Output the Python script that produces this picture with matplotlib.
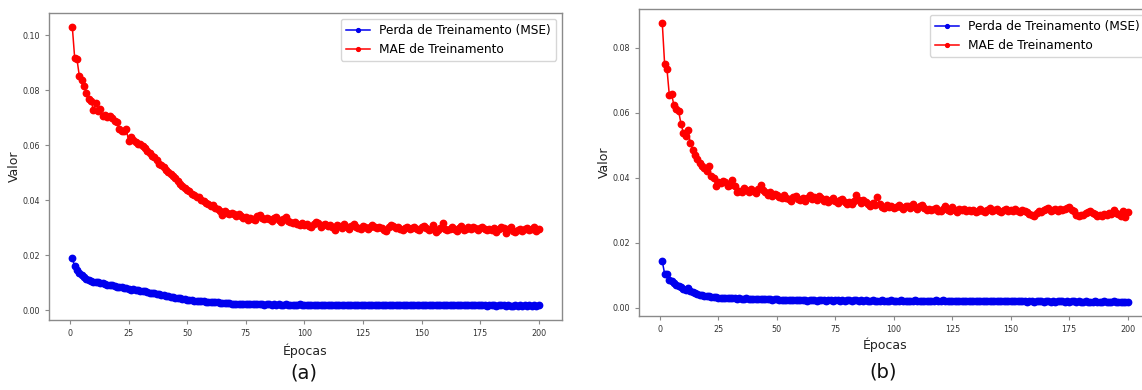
import numpy as np
import matplotlib
matplotlib.use("Agg")
import matplotlib.pyplot as plt

plt.rcParams['font.family'] = ['DejaVu Sans']

epochs = list(range(1, 201))

mae_a = [
    0.1030, 0.0918, 0.0912, 0.0851, 0.0836, 0.0817, 0.0791, 0.0767, 0.0760, 0.0728,
    0.0755, 0.0724, 0.0731, 0.0706, 0.0708, 0.0702, 0.0705, 0.0699, 0.0688, 0.0683,
    0.0659, 0.0652, 0.0650, 0.0660, 0.0616, 0.0628, 0.0620, 0.0612, 0.0606, 0.0603,
    0.0598, 0.0588, 0.0578, 0.0570, 0.0562, 0.0558, 0.0545, 0.0532, 0.0528, 0.0521,
    0.0510, 0.0502, 0.0496, 0.0489, 0.0481, 0.0470, 0.0458, 0.0452, 0.0445, 0.0436,
    0.0432, 0.0424, 0.0419, 0.0410, 0.0412, 0.0402, 0.0396, 0.0391, 0.0386, 0.0379,
    0.0381, 0.0372, 0.0368, 0.0362, 0.0346, 0.0360, 0.0352, 0.0349, 0.0355, 0.0348,
    0.0342, 0.0351, 0.0344, 0.0334, 0.0338, 0.0329, 0.0336, 0.0333, 0.0327, 0.0341,
    0.0346, 0.0335, 0.0330, 0.0337, 0.0331, 0.0325, 0.0334, 0.0340, 0.0328, 0.0322,
    0.0333, 0.0339, 0.0326, 0.0320, 0.0316, 0.0322, 0.0315, 0.0311, 0.0318, 0.0309,
    0.0314, 0.0306, 0.0301, 0.0312, 0.0319, 0.0316, 0.0304, 0.0310, 0.0313, 0.0307,
    0.0309, 0.0302, 0.0293, 0.0311, 0.0305, 0.0298, 0.0312, 0.0304, 0.0296, 0.0307,
    0.0312, 0.0303, 0.0300, 0.0297, 0.0307, 0.0302, 0.0295, 0.0304, 0.0309, 0.0301,
    0.0298, 0.0303, 0.0299, 0.0292, 0.0287, 0.0301, 0.0309, 0.0305, 0.0298, 0.0302,
    0.0295, 0.0291, 0.0299, 0.0304, 0.0296, 0.0300, 0.0303, 0.0297, 0.0293, 0.0301,
    0.0305, 0.0298, 0.0290, 0.0294, 0.0308, 0.0284, 0.0292, 0.0300, 0.0317, 0.0296,
    0.0291, 0.0297, 0.0302, 0.0294, 0.0288, 0.0299, 0.0305, 0.0293, 0.0297, 0.0301,
    0.0296, 0.0303, 0.0299, 0.0291, 0.0298, 0.0302, 0.0295, 0.0290, 0.0297, 0.0293,
    0.0300, 0.0285, 0.0296, 0.0303, 0.0298, 0.0282, 0.0294, 0.0301, 0.0289, 0.0286,
    0.0292, 0.0296, 0.0288, 0.0294, 0.0299, 0.0291, 0.0297, 0.0302, 0.0288, 0.0295,
]

mse_a = [
    0.0188, 0.0160, 0.0146, 0.0136, 0.0127, 0.0120, 0.0114, 0.0110, 0.0107, 0.0104,
    0.0102, 0.0101, 0.0097, 0.0098, 0.0094, 0.0092, 0.0093, 0.0090, 0.0088, 0.0086,
    0.0085, 0.0083, 0.0081, 0.0080, 0.0077, 0.0075, 0.0076, 0.0073, 0.0072, 0.0071,
    0.0069, 0.0068, 0.0066, 0.0064, 0.0063, 0.0061, 0.0059, 0.0057, 0.0056, 0.0054,
    0.0052, 0.0050, 0.0049, 0.0047, 0.0046, 0.0044, 0.0043, 0.0041, 0.0040, 0.0038,
    0.0037, 0.0036, 0.0035, 0.0034, 0.0035, 0.0033, 0.0032, 0.0031, 0.0031, 0.0030,
    0.0029, 0.0028, 0.0028, 0.0027, 0.0026, 0.0026, 0.0025, 0.0025, 0.0024, 0.0024,
    0.0023, 0.0023, 0.0022, 0.0023, 0.0022, 0.0021, 0.0022, 0.0021, 0.0021, 0.0022,
    0.0021, 0.0022, 0.0020, 0.0021, 0.0021, 0.0020, 0.0021, 0.0020, 0.0021, 0.0020,
    0.0020, 0.0021, 0.0019, 0.0020, 0.0020, 0.0019, 0.0020, 0.0021, 0.0019, 0.0020,
    0.0019, 0.0020, 0.0018, 0.0019, 0.0020, 0.0019, 0.0018, 0.0019, 0.0020, 0.0018,
    0.0019, 0.0019, 0.0018, 0.0020, 0.0019, 0.0018, 0.0019, 0.0020, 0.0019, 0.0018,
    0.0019, 0.0018, 0.0019, 0.0019, 0.0018, 0.0020, 0.0018, 0.0019, 0.0018, 0.0019,
    0.0018, 0.0019, 0.0018, 0.0017, 0.0018, 0.0019, 0.0018, 0.0019, 0.0018, 0.0018,
    0.0019, 0.0017, 0.0018, 0.0019, 0.0018, 0.0017, 0.0018, 0.0019, 0.0018, 0.0017,
    0.0018, 0.0019, 0.0017, 0.0018, 0.0018, 0.0017, 0.0018, 0.0019, 0.0017, 0.0018,
    0.0017, 0.0018, 0.0018, 0.0017, 0.0018, 0.0017, 0.0018, 0.0017, 0.0018, 0.0017,
    0.0018, 0.0017, 0.0018, 0.0017, 0.0017, 0.0018, 0.0017, 0.0016, 0.0017, 0.0018,
    0.0017, 0.0016, 0.0017, 0.0018, 0.0017, 0.0016, 0.0017, 0.0016, 0.0015, 0.0017,
    0.0016, 0.0017, 0.0016, 0.0017, 0.0016, 0.0017, 0.0016, 0.0018, 0.0016, 0.0017,
]

mae_b = [
    0.0876, 0.0750, 0.0735, 0.0655, 0.0656, 0.0622, 0.0610, 0.0604, 0.0566, 0.0538,
    0.0528, 0.0545, 0.0507, 0.0486, 0.0471, 0.0456, 0.0446, 0.0436, 0.0430, 0.0420,
    0.0436, 0.0404, 0.0399, 0.0373, 0.0386, 0.0384, 0.0389, 0.0386, 0.0373, 0.0378,
    0.0394, 0.0373, 0.0356, 0.0358, 0.0357, 0.0368, 0.0362, 0.0355, 0.0364, 0.0359,
    0.0352, 0.0366, 0.0376, 0.0361, 0.0355, 0.0348, 0.0357, 0.0344, 0.0350, 0.0347,
    0.0341, 0.0336, 0.0345, 0.0338, 0.0333, 0.0327, 0.0339, 0.0342, 0.0334, 0.0331,
    0.0336, 0.0329, 0.0338, 0.0345, 0.0335, 0.0340, 0.0332, 0.0343, 0.0336, 0.0328,
    0.0333, 0.0326, 0.0331, 0.0337, 0.0329, 0.0322, 0.0330, 0.0335, 0.0324, 0.0320,
    0.0326, 0.0318, 0.0328, 0.0345, 0.0331, 0.0323, 0.0330, 0.0326, 0.0319, 0.0314,
    0.0322, 0.0316, 0.0340, 0.0318, 0.0311, 0.0307, 0.0315, 0.0309, 0.0312, 0.0306,
    0.0310, 0.0316, 0.0308, 0.0303, 0.0314, 0.0312, 0.0305, 0.0318, 0.0309, 0.0302,
    0.0313, 0.0315, 0.0306, 0.0300, 0.0304, 0.0299, 0.0302, 0.0305, 0.0298, 0.0296,
    0.0303, 0.0312, 0.0301, 0.0297, 0.0308, 0.0300, 0.0295, 0.0303, 0.0299, 0.0302,
    0.0297, 0.0301, 0.0296, 0.0300, 0.0294, 0.0298, 0.0302, 0.0296, 0.0293, 0.0299,
    0.0305, 0.0297, 0.0300, 0.0303, 0.0296, 0.0293, 0.0299, 0.0302, 0.0297, 0.0300,
    0.0296, 0.0302, 0.0298, 0.0294, 0.0299, 0.0297, 0.0293, 0.0288, 0.0285, 0.0282,
    0.0290, 0.0296, 0.0293, 0.0299, 0.0303, 0.0305, 0.0297, 0.0301, 0.0304, 0.0298,
    0.0302, 0.0299, 0.0303, 0.0307, 0.0310, 0.0301, 0.0296, 0.0285, 0.0282, 0.0286,
    0.0284, 0.0291, 0.0295, 0.0298, 0.0292, 0.0287, 0.0283, 0.0286, 0.0281, 0.0288,
    0.0284, 0.0290, 0.0287, 0.0299, 0.0292, 0.0288, 0.0283, 0.0296, 0.0278, 0.0294,
]

mse_b = [
    0.0143, 0.0104, 0.0102, 0.0086, 0.0081, 0.0077, 0.0071, 0.0067, 0.0063, 0.0058,
    0.0053, 0.0059, 0.0052, 0.0048, 0.0045, 0.0043, 0.0040, 0.0039, 0.0037, 0.0036,
    0.0037, 0.0034, 0.0033, 0.0032, 0.0029, 0.0030, 0.0029, 0.0030, 0.0028, 0.0029,
    0.0028, 0.0030, 0.0027, 0.0028, 0.0026, 0.0027, 0.0028, 0.0027, 0.0026, 0.0027,
    0.0026, 0.0027, 0.0025, 0.0026, 0.0027, 0.0025, 0.0026, 0.0024, 0.0025, 0.0026,
    0.0023, 0.0022, 0.0024, 0.0023, 0.0022, 0.0023, 0.0022, 0.0023, 0.0022, 0.0023,
    0.0022, 0.0023, 0.0021, 0.0022, 0.0023, 0.0022, 0.0021, 0.0022, 0.0023, 0.0022,
    0.0021, 0.0022, 0.0022, 0.0021, 0.0023, 0.0022, 0.0021, 0.0022, 0.0021, 0.0022,
    0.0022, 0.0021, 0.0023, 0.0024, 0.0021, 0.0022, 0.0021, 0.0022, 0.0020, 0.0021,
    0.0022, 0.0021, 0.0020, 0.0021, 0.0022, 0.0021, 0.0020, 0.0021, 0.0022, 0.0021,
    0.0020, 0.0021, 0.0022, 0.0021, 0.0020, 0.0021, 0.0020, 0.0021, 0.0022, 0.0020,
    0.0021, 0.0020, 0.0021, 0.0020, 0.0021, 0.0020, 0.0021, 0.0022, 0.0020, 0.0021,
    0.0022, 0.0020, 0.0021, 0.0020, 0.0021, 0.0020, 0.0019, 0.0020, 0.0021, 0.0020,
    0.0020, 0.0019, 0.0020, 0.0021, 0.0020, 0.0019, 0.0020, 0.0020, 0.0019, 0.0020,
    0.0021, 0.0020, 0.0019, 0.0020, 0.0019, 0.0020, 0.0021, 0.0019, 0.0020, 0.0019,
    0.0020, 0.0019, 0.0020, 0.0019, 0.0020, 0.0019, 0.0018, 0.0019, 0.0020, 0.0018,
    0.0019, 0.0020, 0.0019, 0.0018, 0.0020, 0.0019, 0.0018, 0.0019, 0.0018, 0.0019,
    0.0020, 0.0019, 0.0018, 0.0019, 0.0018, 0.0019, 0.0020, 0.0018, 0.0019, 0.0018,
    0.0018, 0.0019, 0.0018, 0.0017, 0.0018, 0.0019, 0.0018, 0.0017, 0.0018, 0.0019,
    0.0018, 0.0017, 0.0018, 0.0019, 0.0018, 0.0017, 0.0018, 0.0017, 0.0018, 0.0018,
]

label_mse = "Perda de Treinamento (MSE)"
label_mae = "MAE de Treinamento"
panel_labels = ["(a)", "(b)"]

W, H = 1142, 390
fig = plt.figure(figsize=(W / 100, H / 100), dpi=100)

def box(l, t, r, b):
    return [l / W, 1 - b / H, (r - l) / W, (b - t) / H]

axes = [fig.add_axes(box(49, 13, 562, 320)), fig.add_axes(box(639, 9, 1151, 316))]
data = [(mse_a, mae_a), (mse_b, mae_b)]

spine_c = '#8a8a8a'
for ax, (mse, mae) in zip(axes, data):
    ax.plot(epochs, mse, color='#0000ee', marker='o', markersize=4.6, linewidth=1.1, label=label_mse)
    ax.plot(epochs, mae, color='#ff0000', marker='o', markersize=4.6, linewidth=1.1, label=label_mae)
    for s in ax.spines.values():
        s.set_color(spine_c)
        s.set_linewidth(1.0)
    ax.tick_params(labelsize=5.8, colors=spine_c, labelcolor='#333333', length=3, width=0.8)
    ax.set_xticks([0, 25, 50, 75, 100, 125, 150, 175, 200])
    ax.set_xlabel("Épocas", fontsize=9, color='#222222', labelpad=4)
    ax.set_ylabel("Valor", fontsize=9, color='#222222', labelpad=1)
    ax.legend(loc='upper right', fontsize=8.7, handlelength=2.0, markerscale=0.6)

axes[0].set_yticks([0.00, 0.02, 0.04, 0.06, 0.08, 0.10])
axes[1].set_yticks([0.00, 0.02, 0.04, 0.06, 0.08])
axes[1].xaxis.set_label_coords((885 - 639) / 512, -0.07)

fig.text(304 / W, 1 - 373 / H, panel_labels[0], fontsize=14, ha='center', va='center', color='#111111')
fig.text(883 / W, 1 - 372 / H, panel_labels[1], fontsize=14, ha='center', va='center', color='#111111')

fig.savefig("out.png", dpi=100)
